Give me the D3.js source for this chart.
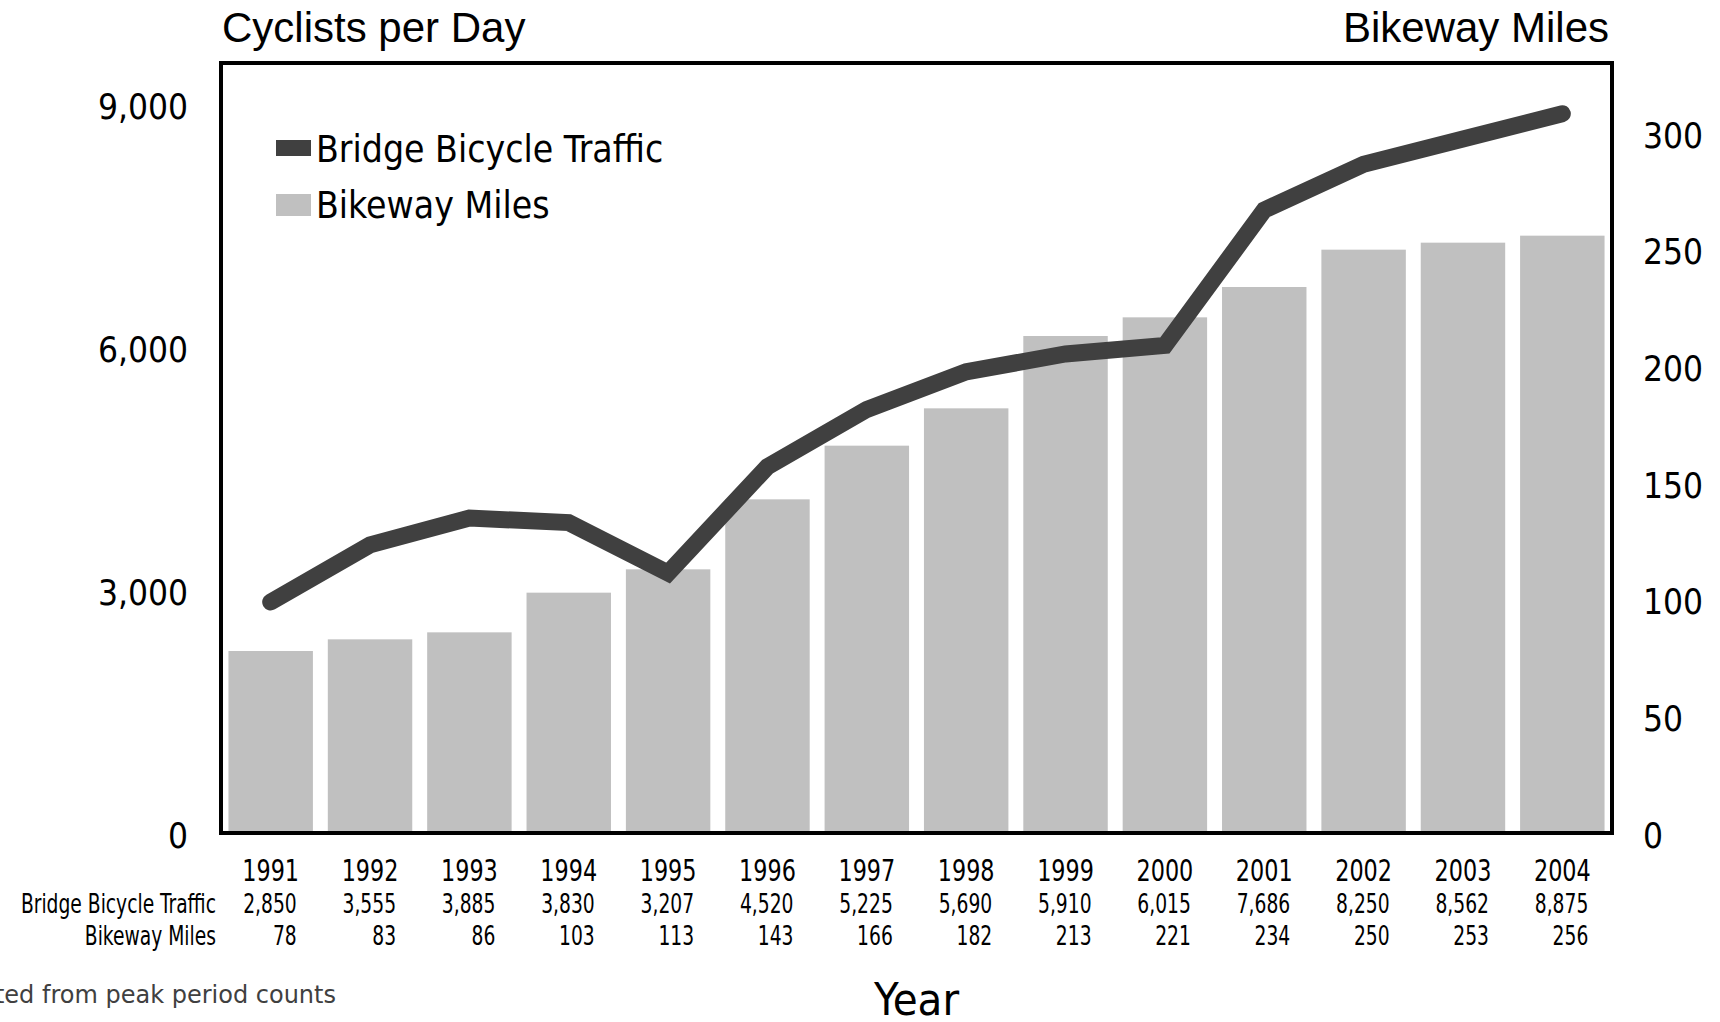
<!DOCTYPE html>
<html>
<head>
<meta charset="utf-8">
<script src="https://cdn.jsdelivr.net/npm/d3@7"></script>
<style>
  body { margin: 0; background: #fff; }
  .cond { font-family: "DejaVu Sans Condensed", "DejaVu Sans", sans-serif; }
  .reg { font-family: "DejaVu Sans", sans-serif; }
  .arial { font-family: "Liberation Sans", Arial, sans-serif; }
</style>
</head>
<body>
<div id="vis1"></div>
<script>
const YEARS = ["1991","1992","1993","1994","1995","1996","1997","1998","1999","2000","2001","2002","2003","2004"];
const TRAFFIC = [2850, 3555, 3885, 3830, 3207, 4520, 5225, 5690, 5910, 6015, 7686, 8250, 8562, 8875];
const MILES = [78, 83, 86, 103, 113, 143, 166, 182, 213, 221, 234, 250, 253, 256];
const LEFT_TICKS = [0, 3000, 6000, 9000];
const RIGHT_TICKS = [0, 50, 100, 150, 200, 250, 300];

const FRAME_HEIGHT = 1022;
const FRAME_WIDTH = 1720;
const MARGINS = {left: 221, right: 108, top: 63, bottom: 189};
const VIS_HEIGHT = FRAME_HEIGHT - MARGINS.top - MARGINS.bottom;
const VIS_WIDTH = FRAME_WIDTH - MARGINS.left - MARGINS.right;

const LINE_COLOR = "#404040";
const BAR_COLOR = "#c0c0c0";
// the table text in the source is a narrow face, squeeze the condensed one
const NARROW = 0.8;

const FRAME = d3.select("#vis1")
                .append("svg")
                  .attr("height", FRAME_HEIGHT)
                  .attr("width", FRAME_WIDTH);

function build_chart() {

  // band scale for the years, bars and line points share it
  const X_SCALE = d3.scaleBand()
    .domain(YEARS)
    .range([0, VIS_WIDTH])
    .paddingInner(0.15)
    .paddingOuter(0.075);

  const Y_LEFT = d3.scaleLinear().domain([0, 9500]).range([VIS_HEIGHT, 0]);
  const Y_RIGHT = d3.scaleLinear().domain([0, 330]).range([VIS_HEIGHT, 0]);

  const g = FRAME.append("g")
    .attr("transform", "translate(" + MARGINS.left + "," + MARGINS.top + ")");

  // bars = bikeway miles on the right axis
  g.selectAll(".bar")
    .data(MILES)
    .enter()
    .append("rect")
      .attr("class", "bar")
      .attr("x", (d, i) => X_SCALE(YEARS[i]))
      .attr("y", d => Y_RIGHT(d))
      .attr("width", X_SCALE.bandwidth())
      .attr("height", d => VIS_HEIGHT - Y_RIGHT(d))
      .attr("fill", BAR_COLOR);

  // line = bridge traffic on the left axis
  const line = d3.line()
    .x((d, i) => X_SCALE(YEARS[i]) + X_SCALE.bandwidth() / 2)
    .y(d => Y_LEFT(d));

  g.append("path")
    .datum(TRAFFIC)
    .attr("d", line)
    .attr("fill", "none")
    .attr("stroke", LINE_COLOR)
    .attr("stroke-width", 17)
    .attr("stroke-linecap", "round")
    .attr("stroke-linejoin", "miter");

  // plot frame
  g.append("rect")
    .attr("x", 0).attr("y", 0)
    .attr("width", VIS_WIDTH).attr("height", VIS_HEIGHT)
    .attr("fill", "none")
    .attr("stroke", "#000")
    .attr("stroke-width", 4);

  // left axis
  const left = g.append("g")
    .call(d3.axisLeft(Y_LEFT).tickValues(LEFT_TICKS).tickSize(0).tickPadding(33).tickFormat(d3.format(",")));
  left.select(".domain").remove();
  left.selectAll("text").attr("class", "cond").attr("font-size", 35).attr("dy", "0.42em").attr("fill", "#000");

  // right axis
  const right = g.append("g")
    .attr("transform", "translate(" + VIS_WIDTH + ",0)")
    .call(d3.axisRight(Y_RIGHT).tickValues(RIGHT_TICKS).tickSize(0).tickPadding(31));
  right.select(".domain").remove();
  right.selectAll("text").attr("class", "cond").attr("font-size", 35).attr("dy", "0.4em").attr("fill", "#000");

  // year labels
  const bottom = g.append("g")
    .attr("transform", "translate(0," + VIS_HEIGHT + ")")
    .call(d3.axisBottom(X_SCALE).tickSize(0).tickPadding(26));
  bottom.select(".domain").remove();
  bottom.selectAll("text")
    .attr("class", "cond")
    .attr("font-size", 31)
    .attr("fill", "#000")
    .attr("transform", "scale(" + NARROW + ",1)");

  // data table under the axis
  const rows = [
    {label: "Bridge Bicycle Traffic", values: TRAFFIC.map(d3.format(",")), y: VIS_HEIGHT + 80},
    {label: "Bikeway Miles", values: MILES.map(String), y: VIS_HEIGHT + 112}
  ];
  rows.forEach(r => {
    g.append("text")
      .attr("class", "cond")
      .attr("transform", "translate(-5," + r.y + ") scale(" + NARROW + ",1)")
      .attr("text-anchor", "end")
      .attr("font-size", 26)
      .text(r.label);
    g.selectAll(null)
      .data(r.values)
      .enter()
      .append("text")
        .attr("class", "cond")
        .attr("transform", (d, i) => "translate(" + (X_SCALE(YEARS[i]) + X_SCALE.bandwidth() / 2 + 26) + "," + r.y + ") scale(" + NARROW + ",1)")
        .attr("text-anchor", "end")
        .attr("font-size", 26)
        .text(d => d);
  });

  // legend
  const legend = g.append("g").attr("transform", "translate(55,0)");
  legend.append("line")
    .attr("x1", 0).attr("x2", 35).attr("y1", 85).attr("y2", 85)
    .attr("stroke", LINE_COLOR).attr("stroke-width", 16);
  legend.append("rect")
    .attr("x", 0).attr("y", 131).attr("width", 35).attr("height", 22)
    .attr("fill", BAR_COLOR);
  legend.append("text").attr("class", "cond").attr("x", 40).attr("y", 99)
    .attr("font-size", 37).text("Bridge Bicycle Traffic");
  legend.append("text").attr("class", "cond").attr("x", 40).attr("y", 155)
    .attr("font-size", 37).text("Bikeway Miles");

  // axis titles
  FRAME.append("text").attr("class", "arial")
    .attr("x", 222).attr("y", 42).attr("font-size", 42).text("Cyclists per Day");
  FRAME.append("text").attr("class", "arial")
    .attr("x", 1609).attr("y", 42).attr("font-size", 42).attr("text-anchor", "end").text("Bikeway Miles");
  FRAME.append("text").attr("class", "cond")
    .attr("x", MARGINS.left + VIS_WIDTH / 2).attr("y", 1015).attr("font-size", 45)
    .attr("text-anchor", "middle").text("Year");

  // footnote, runs off the left edge like the source
  FRAME.append("text").attr("class", "reg")
    .attr("x", 336).attr("y", 1003).attr("font-size", 24).attr("fill", "#404040")
    .attr("text-anchor", "end").text("Estimated from peak period counts");
}

build_chart();
</script>
</body>
</html>
